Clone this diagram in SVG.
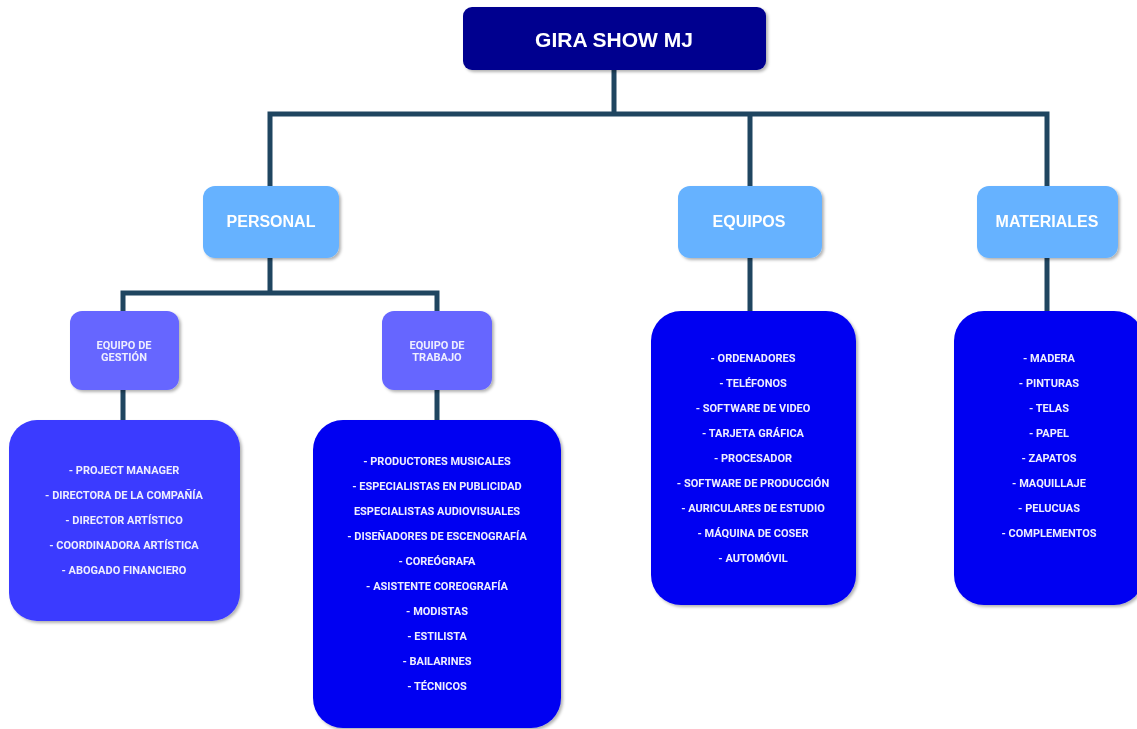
<svg xmlns="http://www.w3.org/2000/svg" width="1137" height="729" viewBox="0 0 1137 729">
<defs>
<filter id="sh" x="-10%" y="-10%" width="130%" height="130%">
<feDropShadow dx="2" dy="2" stdDeviation="1.5" flood-color="#000" flood-opacity="0.3"/>
</filter>
<style>
.t{font-family:Roboto,"Liberation Sans",Arial,sans-serif;font-weight:bold;fill:#fff;text-anchor:middle}
.h{font-family:"Liberation Sans",Arial,sans-serif;font-size:16px}
.s{font-size:11px;fill:#eeeeff}
.c{fill:none;stroke:#1f4560;stroke-width:5;stroke-linejoin:miter}
</style>
</defs>
<rect width="1137" height="729" fill="#fff"/>
<g id="connectors">
<path class="c" d="M614 70V114M270 186V114H1047V186M750 114V186"/>
<path class="c" d="M270 258V293M123 311V293H437V311"/>
<path class="c" d="M123 390V420M437 390V420M750 258V311M1047 258V311"/>
</g>
<g id="root" filter="url(#sh)">
<rect x="463" y="7" width="303" height="63" rx="9" fill="#00008f"/>
<text class="t h" x="614" y="47" style="font-size:21px">GIRA SHOW MJ</text>
</g>
<g id="personal" filter="url(#sh)">
<rect x="203" y="186" width="136" height="72" rx="12" fill="#66b2ff"/>
<text class="t h" x="271" y="227">PERSONAL</text>
</g>
<g id="equipos" filter="url(#sh)">
<rect x="678" y="186" width="144" height="72" rx="12" fill="#66b2ff"/>
<text class="t h" x="749" y="227">EQUIPOS</text>
</g>
<g id="materiales" filter="url(#sh)">
<rect x="977" y="186" width="141" height="72" rx="12" fill="#66b2ff"/>
<text class="t h" x="1047" y="227">MATERIALES</text>
</g>
<g id="gestion" filter="url(#sh)">
<rect x="70" y="311" width="109" height="79" rx="12" fill="#6666ff"/>
<text class="t s" x="124" y="349">EQUIPO DE</text>
<text class="t s" x="124" y="361">GESTIÓN</text>
</g>
<g id="trabajo" filter="url(#sh)">
<rect x="382" y="311" width="110" height="79" rx="12" fill="#6666ff"/>
<text class="t s" x="437" y="349">EQUIPO DE</text>
<text class="t s" x="437" y="361">TRABAJO</text>
</g>
<g id="gestion-list" filter="url(#sh)">
<rect x="9" y="420" width="231" height="201" rx="28" fill="#3a3aff"/>
<text class="t s" x="124" y="474">- PROJECT MANAGER</text>
<text class="t s" x="124" y="499">- DIRECTORA DE LA COMPAÑÍA</text>
<text class="t s" x="124" y="524">- DIRECTOR ARTÍSTICO</text>
<text class="t s" x="124" y="549">- COORDINADORA ARTÍSTICA</text>
<text class="t s" x="124" y="574">- ABOGADO FINANCIERO</text>
</g>
<g id="trabajo-list" filter="url(#sh)">
<rect x="313" y="420" width="248" height="308" rx="30" fill="#0000f2"/>
<text class="t s" x="437" y="465">- PRODUCTORES MUSICALES</text>
<text class="t s" x="437" y="490">- ESPECIALISTAS EN PUBLICIDAD</text>
<text class="t s" x="437" y="515">ESPECIALISTAS AUDIOVISUALES</text>
<text class="t s" x="437" y="540">- DISEÑADORES DE ESCENOGRAFÍA</text>
<text class="t s" x="437" y="565">- COREÓGRAFA</text>
<text class="t s" x="437" y="590">- ASISTENTE COREOGRAFÍA</text>
<text class="t s" x="437" y="615">- MODISTAS</text>
<text class="t s" x="437" y="640">- ESTILISTA</text>
<text class="t s" x="437" y="665">- BAILARINES</text>
<text class="t s" x="437" y="690">- TÉCNICOS</text>
</g>
<g id="equipos-list" filter="url(#sh)">
<rect x="651" y="311" width="205" height="294" rx="30" fill="#0000f2"/>
<text class="t s" x="753" y="362">- ORDENADORES</text>
<text class="t s" x="753" y="387">- TELÉFONOS</text>
<text class="t s" x="753" y="412">- SOFTWARE DE VIDEO</text>
<text class="t s" x="753" y="437">- TARJETA GRÁFICA</text>
<text class="t s" x="753" y="462">- PROCESADOR</text>
<text class="t s" x="753" y="487">- SOFTWARE DE PRODUCCIÓN</text>
<text class="t s" x="753" y="512">- AURICULARES DE ESTUDIO</text>
<text class="t s" x="753" y="537">- MÁQUINA DE COSER</text>
<text class="t s" x="753" y="562">- AUTOMÓVIL</text>
</g>
<g id="materiales-list" filter="url(#sh)">
<rect x="954" y="311" width="190" height="294" rx="30" fill="#0000f2"/>
<text class="t s" x="1049" y="362">- MADERA</text>
<text class="t s" x="1049" y="387">- PINTURAS</text>
<text class="t s" x="1049" y="412">- TELAS</text>
<text class="t s" x="1049" y="437">- PAPEL</text>
<text class="t s" x="1049" y="462">- ZAPATOS</text>
<text class="t s" x="1049" y="487">- MAQUILLAJE</text>
<text class="t s" x="1049" y="512">- PELUCUAS</text>
<text class="t s" x="1049" y="537">- COMPLEMENTOS</text>
</g>
</svg>
